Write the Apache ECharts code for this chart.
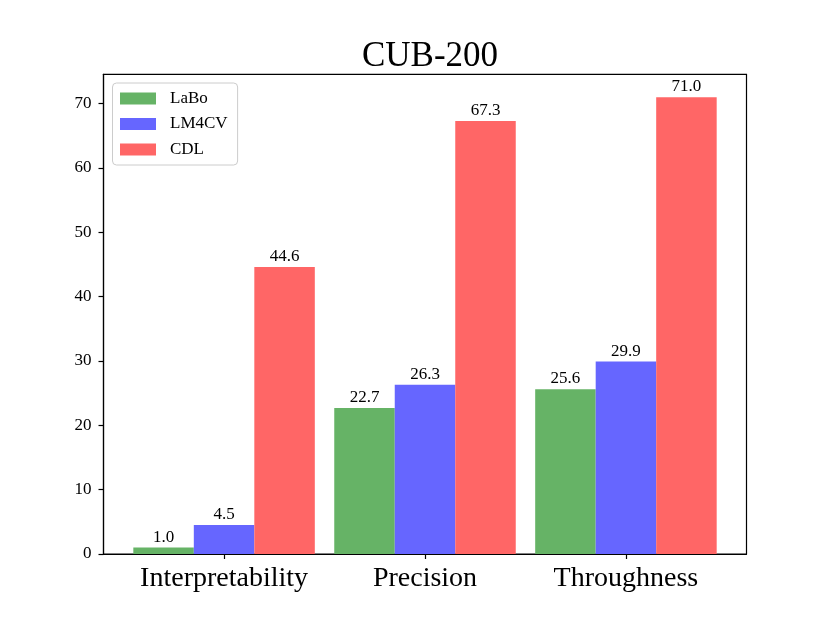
<!DOCTYPE html>
<html>
<head>
<meta charset="utf-8">
<title>CUB-200</title>
<script src="https://cdn.jsdelivr.net/npm/echarts@6/dist/echarts.min.js"></script>
<style>
  html, body { margin: 0; padding: 0; background: #fff; }
  #chart { width: 830px; height: 623px; }
</style>
</head>
<body>
<div id="chart"></div>
<script>
var categories = ['Interpretability', 'Precision', 'Throughness'];
var labo = [1.0, 22.7, 25.6];
var lm4cv = [4.5, 26.3, 29.9];
var cdl = [44.6, 67.3, 71.0];
var yTicks = [0, 10, 20, 30, 40, 50, 60, 70];
var xTicks = [0, 1, 2];

var serif = '"Liberation Serif", "Times New Roman", serif';

// bars sit on a value axis so the side margins match the original (-0.6 .. 2.6)
function toPoints(arr) {
  var out = [];
  for (var i = 0; i < arr.length; i++) {
    out.push([i, arr[i]]);
  }
  return out;
}

function barSeries(name, color, arr) {
  return {
    name: name,
    type: 'bar',
    data: toPoints(arr),
    barWidth: 60.5,
    barGap: '0%',
    itemStyle: { color: color },
    label: {
      show: true,
      position: 'top',
      distance: 2,
      color: '#000',
      fontFamily: serif,
      fontSize: 17,
      formatter: function (p) { return p.value[1].toFixed(1); }
    }
  };
}

var chart = echarts.init(document.getElementById('chart'));
var option = {
  backgroundColor: '#fff',
  animation: false,
  title: {
    text: 'CUB-200',
    left: 425,
    top: 34,
    textAlign: 'center',
    textStyle: { fontFamily: serif, fontSize: 35, fontWeight: 'normal', color: '#000' }
  },
  legend: {
    orient: 'vertical',
    left: 112.5,
    top: 83,
    icon: 'rect',
    itemWidth: 36,
    itemHeight: 12,
    itemGap: 8.5,
    padding: [7, 10, 7, 7.5],
    backgroundColor: '#fff',
    borderColor: '#cccccc',
    borderWidth: 1,
    borderRadius: 4,
    textStyle: { fontFamily: serif, fontSize: 17, color: '#000', padding: [0, 0, 0, 9] },
    data: ['LaBo', 'LM4CV', 'CDL']
  },
  grid: {
    left: 103.5,
    right: 83.5,
    top: 74.3,
    bottom: 69,
    show: true,
    borderColor: '#000',
    borderWidth: 1.2
  },
  xAxis: {
    type: 'value',
    min: -0.6,
    max: 2.6,
    splitLine: { show: false },
    axisLine: { show: true, onZero: false, lineStyle: { color: '#000', width: 1.2 } },
    axisTick: { show: true, customValues: xTicks, length: 5, lineStyle: { color: '#000', width: 1.2 } },
    axisLabel: {
      customValues: xTicks,
      margin: 11,
      color: '#000',
      fontFamily: serif,
      fontSize: 28,
      formatter: function (v) { return categories[Math.round(v)]; }
    }
  },
  yAxis: {
    type: 'value',
    min: 0,
    max: 74.55,
    splitLine: { show: false },
    axisLine: { show: true, onZero: false, lineStyle: { color: '#000', width: 1.2 } },
    axisTick: { show: true, customValues: yTicks, length: 5, lineStyle: { color: '#000', width: 1.2 } },
    axisLabel: {
      customValues: yTicks,
      margin: 12,
      color: '#000',
      fontFamily: serif,
      fontSize: 17
    }
  },
  series: [
    barSeries('LaBo', '#66b366', labo),
    barSeries('LM4CV', '#6666ff', lm4cv),
    barSeries('CDL', '#ff6666', cdl)
  ]
};
chart.setOption(option);
</script>
</body>
</html>
